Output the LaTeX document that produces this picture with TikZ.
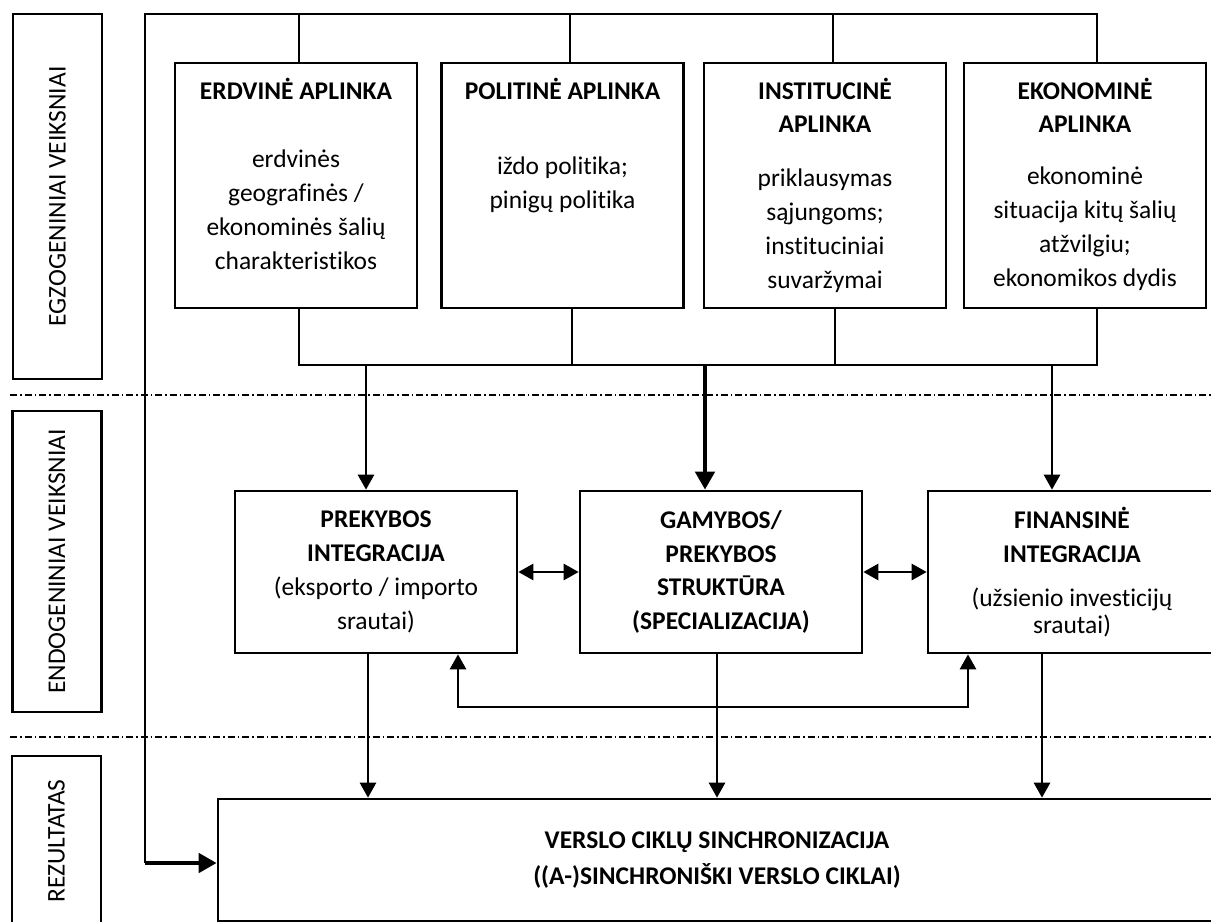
\documentclass[tikz,border=0pt]{standalone}
\usepackage{fontspec}
\setmainfont{Carlito}[Ligatures=CommonOff]
\usepackage{tikz}
\usetikzlibrary{arrows.meta}
\tikzset{
  bx/.style={draw, line width=1.5pt, align=center, inner sep=0pt},
  env/.style={bx, inner xsep=1.2mm},
  fct/.style={bx, minimum height=32.4mm},
  side/.style={bx, rotate=90, minimum height=17.8mm},
  ln/.style={line width=1.5pt},
  arr/.style={ln, -{Triangle[length=3mm, width=3.2mm]}},
  arr2/.style={ln, {Triangle[length=3mm, width=3.2mm]}-{Triangle[length=3mm, width=3.2mm]}},
  bus/.style={line width=2.8pt, -{Triangle[length=3.6mm, width=3.8mm]}},
  sep/.style={line width=0.9pt, dash pattern=on 1.4mm off 0.6mm on 0.3mm off 0.6mm},
}
\newcommand{\envtxt}[3]{\parbox[c][49mm][t]{46mm}{\centering\rule{0pt}{7.2mm}{\bfseries #1}\\[#2]#3}}

\begin{document}
\begin{tikzpicture}[x=0.2mm, y=-0.2mm, font=\fontsize{14.5}{19.3}\selectfont]
  \useasboundingbox (0,0) rectangle (1211,922);
  % side labels
  \node[side, minimum width=73mm] (egz) at (57.5,196.5) {EGZOGENINIAI VEIKSNIAI};
  \node[side, minimum width=60.2mm] (endo) at (57,561.5) {ENDOGENINIAI VEIKSNIAI};
  \node[side, minimum width=34mm] (rez) at (56.5,841) {REZULTATAS};
  \draw[sep] (10,395) -- (1211,395);
  \draw[sep] (10,737) -- (1211,737);
  % environment
  \node[env] (erd) at (296,185.5) {\envtxt{ERDVINĖ APLINKA}{7mm}{erdvinės\\geografinės /\\ekonominės šalių\\charakteristikos}};
  \node[env] (pol) at (562.5,185.5) {\envtxt{POLITINĖ APLINKA}{8.4mm}{iždo politika;\\pinigų politika}};
  \node[env] (ins) at (825,185.5) {\envtxt{INSTITUCINĖ\\APLINKA}{4mm}{priklausymas\\sąjungoms;\\instituciniai\\suvaržymai}};
  \node[env] (eko) at (1085,185.5) {\envtxt{EKONOMINĖ\\APLINKA}{3.5mm}{ekonominė\\situacija kitų šalių\\atžvilgiu;\\ekonomikos dydis}};
  % integration
  \node[fct, minimum width=56.4mm] (prek) at (376,572) {\textbf{PREKYBOS}\\\textbf{INTEGRACIJA}\\(eksporto / importo\\srautai)};
  \node[fct, minimum width=56.4mm] (gam) at (721,572) {\textbf{GAMYBOS/}\\\textbf{PREKYBOS}\\\textbf{STRUKTŪRA}\\\textbf{(SPECIALIZACIJA)}};
  \node[fct, minimum width=57.6mm] (fin) at (1072,572) {\textbf{FINANSINĖ}\\\textbf{INTEGRACIJA}\\[2mm](užsienio investicijų\\[-1.4mm]srautai)};
  % result
  \node[bx, minimum width=199.6mm, minimum height=24.4mm] (res) at (717,860) {\textbf{VERSLO CIKLŲ SINCHRONIZACIJA}\\[0.4mm]\textbf{((A-)SINCHRONIŠKI VERSLO CIKLAI)}};
  % frame
  \coordinate (nw) at (145,14);
  \coordinate (ne) at (1097,14);
  \coordinate (sw) at (145,863);
  \draw[ln] (eko.north -| ne) -- (ne) -- (nw) -- (sw);
  \draw[bus] (sw) -- (sw -| res.west);
  \foreach \b/\x in {erd/299, pol/570, ins/833}
    \draw[ln] (\x,14) -- (\b.north -| \x,0);
  \draw[ln] (erd.south -| 299,0) -- (299,365) -- (1097,365) -- (eko.south -| 1097,0);
  \foreach \b/\x in {pol/572, ins/835}
    \draw[ln] (\b.south -| \x,0) -- (\x,365);
  \draw[arr] (366,365) -- (prek.north -| 366,0);
  \draw[bus] (705,365) -- (gam.north -| 705,0);
  \draw[arr] (1052,365) -- (fin.north -| 1052,0);
  \draw[arr2] (prek.east) -- (gam.west);
  \draw[arr2] (gam.east) -- (fin.west);
  \draw[arr2] (prek.south -| 458,0) -- (458,707) -- (968,707) -- (fin.south -| 968,0);
  \foreach \b/\x in {prek/368, gam/717, fin/1042}
    \draw[arr] (\b.south -| \x,0) -- (res.north -| \x,0);
\end{tikzpicture}
\end{document}
